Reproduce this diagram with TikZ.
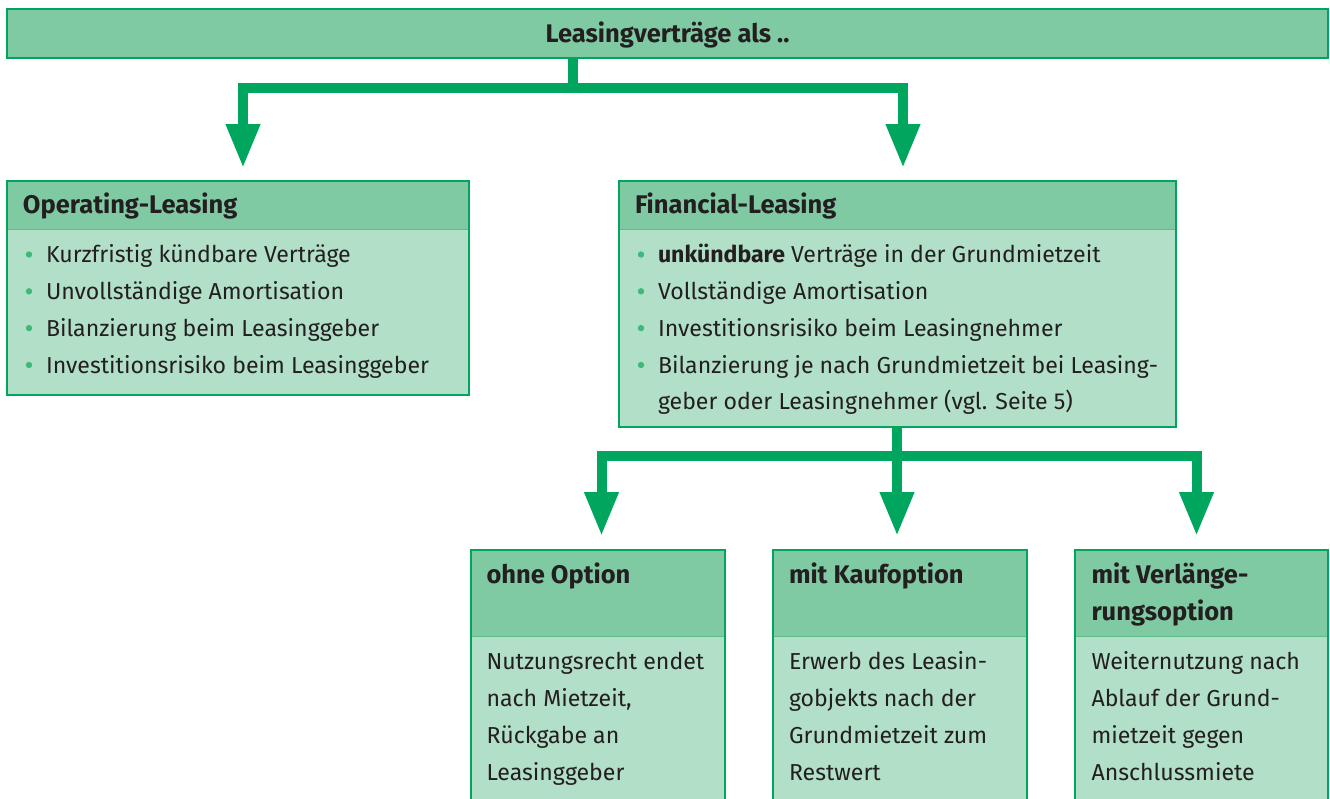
\documentclass[tikz,border=0pt]{standalone}
\usepackage{fontspec}
\setmainfont{Fira Sans}
\usetikzlibrary{arrows.meta}
\definecolor{headc}{HTML}{80CAA3}
\definecolor{bodyc}{HTML}{B2DFC7}
\definecolor{linec}{HTML}{00A65D}
\definecolor{divc}{HTML}{5FBD8A}
\definecolor{txtc}{HTML}{231F20}
\definecolor{dotc}{HTML}{3DB97C}
\begin{document}
\begin{tikzpicture}[x=1pt,y=-1pt,
  every node/.style={inner sep=0pt, outer sep=0pt},
  txt/.style={anchor=base west, text=txtc, font=\fontsize{23.1}{28}\selectfont},
  hd/.style={txt, font=\fontsize{25.5}{28}\selectfont\bfseries},
  framebox/.style={draw=linec, line width=2.5pt, fill=bodyc, anchor=north west,
    path picture={\fill[headc] (path picture bounding box.north west) rectangle ([yshift=-#1pt]path picture bounding box.north east);
      \draw[divc, line width=1pt] ([yshift=-#1pt]path picture bounding box.north west) -- ([yshift=-#1pt]path picture bounding box.north east);}},
  stem/.style={draw=linec, line width=10pt, line join=miter},
  arr/.style={stem, -{Triangle[width=32pt,length=44pt]}},
  dot/.style={fill=dotc}
]
\useasboundingbox (0,0) rectangle (1330,798);
\clip (0,0) rectangle (1330,798);

% top box
\node[draw=linec, line width=2.5pt, fill=headc, minimum width=1321pt, minimum height=49pt, anchor=north west] (top) at (7,9) {};
\node[hd, anchor=base] (toptxt) at (667.5,42.7) {Leasingverträge als ..};

% operating leasing
\node[framebox=48, minimum width=462pt, minimum height=214pt] (op) at (7,181) {};
\node[hd] (ophd) at (23,213.5) {Operating-Leasing};
\foreach \t/\y [count=\i] in {Kurzfristig kündbare Verträge/262.5, Unvollständige Amortisation/299.3, Bilanzierung beim Leasinggeber/336.1, Investitionsrisiko beim Leasinggeber/373}{
  \node[txt] (op\i) at (46,\y) {\t};
  \fill[dot] (29,\y-8) circle (3.2pt);
}

% financial leasing
\node[framebox=48, minimum width=557pt, minimum height=246pt] (fin) at (619,181) {};
\node[hd] (finhd) at (635,213.5) {Financial-Leasing};
\node[txt] (fin1) at (658,262.5) {\textbf{unkündbare} Verträge in der Grundmietzeit};
\node[txt] (fin2) at (658,299.3) {Vollständige Amortisation};
\node[txt] (fin3) at (658,336.1) {Investitionsrisiko beim Leasingnehmer};
\node[txt] (fin4) at (658,373) {Bilanzierung je nach Grundmietzeit bei Leasing-};
\node[txt] (fin5) at (658,409.7) {geber oder Leasingnehmer (vgl. Seite 5)};
\foreach \y in {262.5,299.3,336.1,373}{\fill[dot] (641,\y-8) circle (3.2pt);}

% bottom boxes
\node[framebox=86, minimum width=254pt, minimum height=280pt] (ohne) at (471,550) {};
\node[framebox=86, minimum width=254pt, minimum height=280pt] (kauf) at (773,550) {};
\node[framebox=86, minimum width=253pt, minimum height=280pt] (verl) at (1075,550) {};

\node[hd] (ohnehd) at (486.5,583.3) {ohne Option};
\node[hd] (kaufhd) at (789,583.3) {mit Kaufoption};
\node[hd] (verlhd1) at (1091.5,583.3) {mit Verlänge-};
\node[hd] (verlhd2) at (1091.5,620.8) {rungsoption};

\node[txt] (ohne1) at (486.5,669.3) {Nutzungsrecht endet};
\node[txt] (ohne2) at (486.5,706.3) {nach Mietzeit,};
\node[txt] (ohne3) at (486.5,743.3) {Rückgabe an};
\node[txt] (ohne4) at (486.5,780.5) {Leasinggeber};

\node[txt] (kauf1) at (789,669.3) {Erwerb des Leasin-};
\node[txt] (kauf2) at (789,706.3) {gobjekts nach der};
\node[txt] (kauf3) at (789,743.3) {Grundmietzeit zum};
\node[txt] (kauf4) at (789,780.5) {Restwert};

\node[txt] (verl1) at (1091.5,669.3) {Weiternutzung nach};
\node[txt] (verl2) at (1091.5,706.3) {Ablauf der Grund-};
\node[txt] (verl3) at (1091.5,743.3) {mietzeit gegen};
\node[txt] (verl4) at (1091.5,780.5) {Anschlussmiete};

% connectors
\coordinate (j1) at (573,88);
\coordinate (e1) at (243,168);
\coordinate (e2) at (903,168);
\draw[stem] (top.south -| j1) -- (j1);
\draw[arr] (j1) -| (e1);
\draw[arr] (j1) -| (e2);

\coordinate (j2) at (897,456);
\coordinate (e3) at (601.5,536);
\coordinate (e4) at (897,536);
\coordinate (e5) at (1196.5,536);
\draw[stem] (fin.south -| j2) -- (j2);
\draw[arr] (j2) -| (e3);
\draw[arr] (j2) -- (e4);
\draw[arr] (j2) -| (e5);
\end{tikzpicture}
\end{document}
